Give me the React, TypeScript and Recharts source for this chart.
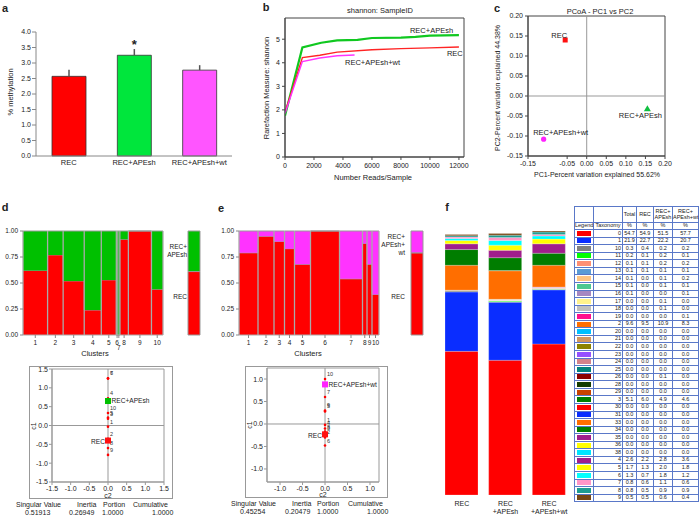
import React from "react";
import {
  BarChart, Bar, Cell, XAxis, YAxis, ErrorBar, LabelList, LineChart, Line,
  ScatterChart, Scatter, ReferenceLine, ReferenceArea, ReferenceDot, AreaChart, Area,
} from "recharts";

const FONT = '"Liberation Sans", Arial, Helvetica, sans-serif';
const INK = "#222";
const RED = "#ff0000";

// ---- a: % methylation
const methGroups = ["REC", "REC+APEsh", "REC+APEsh+wt"];
const methValues = [2.57, 3.25, 2.77];
const methErrUp = [0.21, 0.2, 0.16];
const methSig = ["", "*", ""];
const methTicks = [0, 0.5, 1, 1.5, 2, 2.5, 3, 3.5, 4];
const methColors = ["#ff0000", "#00e63c", "#ff55ff"];

// ---- b: rarefaction (shannon)
const rareXTicks = [0, 2000, 4000, 6000, 8000, 10000, 12000];
const rareYTicks = [0, 1, 2, 3, 4, 5];
const apeRareX = [0, 1200, 2500, 3600, 5000, 6000, 8000, 9000, 10000, 12000];
const apeRareY = [1.75, 4.65, 4.85, 4.95, 4.97, 5.05, 5.07, 5.1, 5.15, 5.17];
const recRareX = [0, 1200, 2400, 3600, 6000, 8000, 10000, 12000];
const recRareY = [1.9, 4.22, 4.32, 4.45, 4.55, 4.6, 4.63, 4.67];
const wtRareX = [0, 1200, 2400, 3600, 4800];
const wtRareY = [1.85, 4.05, 4.2, 4.3, 4.33];
const rareNames = ["REC+APEsh", "REC", "REC+APEsh+wt"];
const rareLabelX = [8620, 11170, 4140];
const rareLabelY = [5.38, 4.4, 4.03];

// ---- c: PCoA
const pcoaNames = ["REC", "REC+APEsh", "REC+APEsh+wt"];
const pc1 = [-0.055, 0.155, -0.11];
const pc2 = [0.14, -0.032, -0.108];
const pcoaTicks = [-0.15, -0.1, -0.05, 0, 0.05, 0.1, 0.15, 0.2];

// ---- d / e: cluster mosaics + correspondence analysis
const clusterLabels = ["1", "2", "3", "4", "5", "6", "7", "8", "9", "10"];
const mosaicTicks = [0, 0.25, 0.5, 0.75, 1];
const dSizes = [49, 31, 42, 34, 30, 3, 4, 17, 46, 23];
const dRed = [0.62, 0.77, 0.52, 0.24, 0.53, 0, 0, 0.92, 1, 0.44];
const dMarginRed = 0.61;
const eSizes = [38, 32, 21, 20, 32, 58, 46, 9, 10, 14];
const eRed = [0.79, 0.95, 0.9, 0.83, 0.68, 1, 0.54, 0.88, 0.68, 0.39];
const eMarginRed = 0.79;

const dC1 = [-0.03, -0.35, 0.18, 0.72, 0.21, 1.25, 1.25, -0.6, -0.78, 0.33];
const dC2 = [0, 0, 0, 0, 0, 0, 0, 0, 0, 0];
const dGroupNames = ["REC+APEsh", "REC"];
const dGroupC1 = [0.65, -0.4];
const dGroupC2 = [0, 0];
const eC1 = [-0.02, -0.3, -0.2, -0.1, 0.28, -0.48, 0.6, -0.17, 0.3, 1.0];
const eC2 = [0, 0, 0, 0, 0, 0, 0, 0, 0, 0];
const eGroupNames = ["REC+APEsh+wt", "REC"];
const eGroupC1 = [0.88, -0.23];
const eGroupC2 = [0, 0];
const caTicksD = [-1.5, -1, -0.5, 0, 0.5, 1, 1.5];
const caTicksE = [-1, -0.5, 0, 0.5, 1];
const statHeads = ["Singular Value", "Inertia", "Portion", "Cumulative"];
const dStats = ["0.51913", "0.26949", "1.0000", "1.0000"];
const eStats = ["0.45254", "0.20479", "1.0000", "1.0000"];

// ---- f: taxonomy composition
const compGroups = ["REC", "REC\n+APEsh", "REC\n+APEsh+wt"];
const taxa = ["0", "1", "10", "11", "12", "13", "14", "15", "16", "17", "18", "19", "2", "20", "21", "22", "23", "24",
  "25", "26", "28", "29", "3", "30", "31", "33", "34", "35", "36", "38", "4", "5", "6", "7", "8", "9"];
const compTotal = [54.7, 21.9, 0.3, 0.2, 0.1, 0.1, 0.1, 0.1, 0.1, 0, 0, 0, 9.6, 0, 0, 0, 0, 0,
  0, 0, 0, 0, 5.1, 0, 0, 0, 0, 0, 0, 0, 2.6, 1.7, 1.3, 0.8, 0.8, 0.5];
const compRec = [54.9, 22.7, 0.4, 0.1, 0.1, 0.1, 0, 0, 0, 0, 0, 0, 9.5, 0, 0, 0, 0, 0,
  0, 0, 0, 0, 6.0, 0, 0, 0, 0, 0, 0, 0, 2.2, 1.3, 0.7, 0.6, 0.5, 0.5];
const compApesh = [51.5, 22.2, 0.2, 0.2, 0.2, 0.1, 0.1, 0.1, 0, 0.1, 0.1, 0, 10.9, 0, 0, 0, 0, 0,
  0, 0.1, 0, 0, 4.9, 0, 0, 0, 0, 0, 0, 0, 2.8, 2.0, 1.8, 1.1, 0.9, 0.6];
const compWt = [57.7, 20.7, 0.2, 0.1, 0.2, 0.1, 0.2, 0.1, 0.1, 0, 0, 0.1, 8.3, 0, 0, 0, 0, 0,
  0, 0, 0, 0, 4.6, 0, 0, 0, 0, 0, 0, 0, 3.6, 1.8, 1.2, 0.6, 0.9, 0.4];
const taxaColors = ["#ff0000", "#0a2dff", "#808080", "#00ff00", "#ff8f73", "#5b9bd5", "#ffc482", "#4cc890",
  "#a687c2", "#fff28c", "#bfbfbf", "#ff0f8c", "#ff6e00", "#00bfff", "#d2965f", "#8c8200", "#9650ff", "#d2828c",
  "#00827d", "#8c0000", "#143c00", "#c84100", "#007d00", "#ff0000", "#0a2dff", "#ff6e00", "#007d00", "#a01e8c",
  "#ffff00", "#00e6ff", "#a01e8c", "#ffff00", "#00ffff", "#ff96c8", "#1e9b91", "#784614"];

// small absolutely placed text helper
const T = ({ x, y, s = 7.5, a = "c", rot = 0, bold = false, children }: any) => {
  const tx = a === "c" ? "-50%" : a === "r" ? "-100%" : "0";
  return (
    <div style={{
      position: "absolute", left: x, top: y, fontSize: s, fontWeight: bold ? 700 : 400, lineHeight: 1,
      whiteSpace: "pre", textAlign: "center",
      transform: `translate(${tx}, -50%)${rot ? ` rotate(${rot}deg)` : ""}`,
    }}>{children}</div>
  );
};

const Star = (p: any) =>
  p.value ? (
    <text x={p.x + p.width / 2} y={p.y - 6} textAnchor="middle" fontSize={13} fontWeight={700} fill={INK}>{p.value}</text>
  ) : null;

function PanelA() {
  const rows = methGroups.map((g, i) => ({ name: g, value: methValues[i], err: [0, methErrUp[i]], sig: methSig[i] }));
  return (
    <div style={{ position: "absolute", left: 0, top: 0 }}>
      <BarChart width={232} height={175} data={rows} margin={{ top: 32, right: 0, bottom: 4, left: 0 }} barSize={34}>
        <XAxis dataKey="name" height={15} tickLine={false} tickSize={2} tickMargin={2} stroke="#888"
          tick={{ fontSize: 7.5, fill: INK }} />
        <YAxis domain={[0, 4]} ticks={methTicks} width={36} tickSize={4} tickMargin={1} stroke="#888"
          tickFormatter={(v) => v.toFixed(1)} tick={{ fontSize: 7, fill: INK }} />
        <Bar dataKey="value" stroke="#333" strokeWidth={0.8} isAnimationActive={false}>
          {rows.map((r, i) => <Cell key={r.name} fill={methColors[i]} />)}
          <ErrorBar dataKey="err" width={0} stroke="#555" strokeWidth={1.5} direction="y" />
          <LabelList dataKey="sig" content={Star} />
        </Bar>
      </BarChart>
    </div>
  );
}

function PanelB() {
  const series = [
    { xs: apeRareX, ys: apeRareY, color: "#10c820", w: 2.2 },
    { xs: recRareX, ys: recRareY, color: "#ff2424", w: 1.4 },
    { xs: wtRareX, ys: wtRareY, color: "#ff33ff", w: 1.4 },
  ];
  return (
    <div style={{ position: "absolute", left: 225, top: 0 }}>
      <LineChart width={245} height={180} margin={{ top: 18, right: 6, bottom: 8, left: 0 }}>
        <XAxis type="number" dataKey="x" domain={[0, 12350]} ticks={rareXTicks} height={15} tickSize={3} tickMargin={3}
          stroke="#444" tick={{ fontSize: 7, fill: INK }} allowDataOverflow />
        <YAxis type="number" domain={[0, 5.9]} ticks={rareYTicks} width={60} tickSize={3} stroke="#444"
          tick={{ fontSize: 7, fill: INK }} allowDataOverflow />
        <ReferenceArea x1={0} x2={12350} y1={0} y2={5.9} fill="none" stroke="#444" strokeWidth={1} />
        {series.map((s, i) => (
          <Line key={rareNames[i]} name={rareNames[i]} data={s.xs.map((x, j) => ({ x, y: s.ys[j] }))} dataKey="y"
            type="linear" stroke={s.color} strokeWidth={s.w} dot={false} isAnimationActive={false} />
        ))}
        {rareNames.map((n, i) => (
          <ReferenceDot key={n} x={rareLabelX[i]} y={rareLabelY[i]} r={0} fill="none" stroke="none"
            label={{ value: n, position: "right", offset: 0, fontSize: 7.5, fill: INK }} />
        ))}
      </LineChart>
    </div>
  );
}

const pcoaMarks = [
  { color: "#ff1010", kind: "square", anchor: "end", dx: 2, dy: -5 },
  { color: "#10c040", kind: "triangle", anchor: "middle", dx: -7, dy: 6.5 },
  { color: "#ff22ff", kind: "circle", anchor: "middle", dx: 17, dy: -7 },
];

function PanelC() {
  return (
    <div style={{ position: "absolute", left: 465, top: 0 }}>
      <ScatterChart width={235} height={180} margin={{ top: 16, right: 35, bottom: 9, left: 0 }}>
        <XAxis type="number" dataKey="x" domain={[-0.15, 0.2]} ticks={pcoaTicks} height={15} tickSize={3}
          stroke="#444" tickFormatter={(v) => v.toFixed(2)} tick={{ fontSize: 7, fill: INK }} allowDataOverflow />
        <YAxis type="number" dataKey="y" domain={[-0.15, 0.2]} ticks={pcoaTicks} width={63} tickSize={3}
          stroke="#444" tickFormatter={(v) => v.toFixed(2)} tick={{ fontSize: 7, fill: INK }} allowDataOverflow />
        <ReferenceArea x1={-0.15} x2={0.2} y1={-0.15} y2={0.2} fill="none" stroke="#444" />
        <ReferenceLine x={0} stroke="#999" />
        <ReferenceLine y={0} stroke="#999" />
        {pcoaNames.map((n, i) => {
          const m = pcoaMarks[i];
          return (
            <Scatter key={n} name={n} data={[{ x: pc1[i], y: pc2[i], name: n }]} isAnimationActive={false}
              shape={(p: any) => (
                <g>
                  {m.kind === "square" && <rect x={p.cx - 2.5} y={p.cy - 2.5} width={5} height={5} fill={m.color} />}
                  {m.kind === "triangle" && (
                    <polygon points={`${p.cx},${p.cy - 3.5} ${p.cx - 3.5},${p.cy + 2.5} ${p.cx + 3.5},${p.cy + 2.5}`} fill={m.color} />
                  )}
                  {m.kind === "circle" && <circle cx={p.cx} cy={p.cy} r={2.6} fill={m.color} />}
                  <text x={p.cx + m.dx} y={p.cy + m.dy} dy="0.35em" textAnchor={m.anchor} fontSize={7.5} fill={INK}>
                    {p.payload.name}
                  </text>
                </g>
              )} />
          );
        })}
      </ScatterChart>
    </div>
  );
}

function Mosaic({ left, top, width, yw, sizes, red, otherColor, lowered }: any) {
  const rows: any[] = [];
  const bounds: number[] = [];
  const centers: number[] = [];
  let acc = 0;
  sizes.forEach((s: number, i: number) => {
    rows.push({ x: acc, red: red[i], other: 1 - red[i] });
    bounds.push(acc);
    centers.push(acc + s / 2);
    acc += s;
  });
  rows.push({ x: acc, red: red[red.length - 1], other: 1 - red[red.length - 1] });
  bounds.push(acc);
  const tick = (p: any) => {
    const i = centers.indexOf(p.payload.value);
    const lab = clusterLabels[i];
    return (
      <text x={p.x} y={p.y + (lowered.includes(lab) ? 5 : 0)} dy="0.71em" textAnchor="middle" fontSize={6.5} fill={INK}>
        {lab}
      </text>
    );
  };
  return (
    <div style={{ position: "absolute", left, top }}>
      <AreaChart width={width} height={140} data={rows} margin={{ top: 11, right: 5, bottom: 10, left: 0 }}>
        <XAxis type="number" dataKey="x" domain={[0, acc]} ticks={centers} interval={0} height={15} tickSize={3}
          axisLine={false} stroke="#888" tick={tick} />
        <YAxis type="number" domain={[0, 1]} ticks={mosaicTicks} width={yw} tickSize={3} axisLine={false}
          stroke="#888" tickFormatter={(v) => v.toFixed(2)} tick={{ fontSize: 6.5, fill: INK }} />
        <Area type="stepAfter" dataKey="red" stackId="m" fill={RED} fillOpacity={1} stroke="#999" strokeWidth={1}
          isAnimationActive={false} activeDot={false} />
        <Area type="stepAfter" dataKey="other" stackId="m" fill={otherColor} fillOpacity={1} stroke="#999"
          strokeWidth={1} isAnimationActive={false} activeDot={false} />
        {bounds.map((b) => <ReferenceLine key={b} x={b} stroke="#aaa" strokeWidth={1.3} />)}
        <ReferenceLine y={0} stroke="#aaa" />
      </AreaChart>
    </div>
  );
}

function MarginBar({ left, top, red, otherColor }: any) {
  return (
    <div style={{ position: "absolute", left, top }}>
      <BarChart width={18} height={130} data={[{ name: "all", red, other: 1 - red }]}
        margin={{ top: 11, right: 3, bottom: 15, left: 3 }} barCategoryGap={0}>
        <XAxis dataKey="name" hide />
        <YAxis hide domain={[0, 1]} />
        <Bar dataKey="red" stackId="s" fill={RED} stroke="#999" isAnimationActive={false} />
        <Bar dataKey="other" stackId="s" fill={otherColor} stroke="#999" isAnimationActive={false} />
      </BarChart>
    </div>
  );
}

function CAPlot({ left, top, width, height, yw, margin, domX, domY, ticks, c1, c2, gNames, gC1, gC2, gColors, gSides }: any) {
  const pts = clusterLabels.map((l, i) => ({ x: c2[i], y: c1[i], label: l }));
  return (
    <div style={{ position: "absolute", left, top, width, height, border: "1.5px solid #999", boxSizing: "border-box" }}>
      <div style={{ position: "absolute", left: -1.5, top: -1.5 }}>
        <ScatterChart width={width} height={height} margin={margin}>
          <XAxis type="number" dataKey="x" domain={domX} ticks={ticks} height={10} tickSize={3} tickMargin={1}
            stroke="#999" tickFormatter={(v) => v.toFixed(1)} tick={{ fontSize: 7, fill: INK }} allowDataOverflow />
          <YAxis type="number" dataKey="y" domain={domY} ticks={ticks} width={yw} tickSize={3} tickMargin={1}
            stroke="#999" tickFormatter={(v) => v.toFixed(1)} tick={{ fontSize: 7, fill: INK }} allowDataOverflow />
          <ReferenceArea x1={domX[0]} x2={domX[1]} y1={domY[0]} y2={domY[1]} fill="none" stroke="#999" />
          <ReferenceLine x={0} stroke="#999" />
          <ReferenceLine y={0} stroke="#999" />
          <Scatter name="clusters" data={pts} isAnimationActive={false}
            shape={(p: any) => (
              <g>
                <circle cx={p.cx} cy={p.cy} r={1.3} fill={RED} />
                <text x={p.cx + 2} y={p.cy - 3} fontSize={5.5} fill="#333">{p.payload.label}</text>
              </g>
            )} />
          {gNames.map((n: string, i: number) => (
            <Scatter key={n} name={n} data={[{ x: gC2[i], y: gC1[i], name: n }]} isAnimationActive={false}
              shape={(p: any) => (
                <g>
                  <rect x={p.cx - 3} y={p.cy - 3} width={6} height={6} fill={gColors[i]} />
                  <text x={p.cx + (gSides[i] === "right" ? 3.5 : -3)} y={p.cy + (gSides[i] === "right" ? 0 : 1.5)}
                    dy="0.35em" textAnchor={gSides[i] === "right" ? "start" : "end"} fontSize={6.6} fill={INK}>
                    {p.payload.name}
                  </text>
                </g>
              )} />
          ))}
        </ScatterChart>
      </div>
    </div>
  );
}

function Stats({ headX, valX, y, vals }: any) {
  return (
    <>
      {statHeads.map((h, i) => <T key={h} x={headX[i]} y={y} a="l" s={7}>{h}</T>)}
      {vals.map((v: string, i: number) => <T key={i} x={valX[i]} y={y + 7.5} a="l" s={7}>{v}</T>)}
    </>
  );
}

function PanelF() {
  const cols = [compRec, compApesh, compWt];
  const rows = compGroups.map((g, gi) => {
    const row: any = { name: g };
    taxa.forEach((t, i) => { row["t" + t] = cols[gi][i]; });
    return row;
  });
  const tick = (p: any) => (
    <text x={p.x} y={p.y} textAnchor="middle" fontSize={7} fill={INK}>
      {String(p.payload.value).split("\n").map((l, i) => (
        <tspan key={i} x={p.x} dy={i === 0 ? 6.5 : 8}>{l}</tspan>
      ))}
    </text>
  );
  return (
    <div style={{ position: "absolute", left: 440, top: 225 }}>
      <BarChart width={131} height={291} data={rows} margin={{ top: 6, right: 0, bottom: 6, left: 0 }} barSize={33}>
        <XAxis dataKey="name" height={15} tickLine={false} axisLine={false} tickSize={2} tickMargin={2}
          interval={0} tick={tick} />
        <YAxis hide domain={[0, 100]} />
        {taxa.map((t, i) => (
          <Bar key={t} dataKey={"t" + t} stackId="f" fill={taxaColors[i]} stroke="#ffffff" strokeOpacity={0.45}
            strokeWidth={0.5} isAnimationActive={false} />
        ))}
      </BarChart>
    </div>
  );
}

function CompTable() {
  const bd = "0.6px solid #5a78c8";
  const cell: any = { border: bd, padding: 0, lineHeight: 1, textAlign: "center", verticalAlign: "middle" };
  const fmt = (v: number) => v.toFixed(1);
  return (
    <table style={{ position: "absolute", left: 574, top: 206, borderCollapse: "collapse", tableLayout: "fixed",
      fontSize: 5.5, width: 124, color: INK }}>
      <colgroup>
        <col style={{ width: 19 }} /><col style={{ width: 29 }} /><col style={{ width: 14 }} />
        <col style={{ width: 17 }} /><col style={{ width: 19 }} /><col style={{ width: 26 }} />
      </colgroup>
      <tbody>
        <tr style={{ height: 16 }}>
          <td style={cell} /><td style={cell} />
          <td style={cell}>Total</td><td style={cell}>REC</td>
          <td style={cell}>REC+<br />APEsh</td><td style={cell}>REC+<br />APEsh+wt</td>
        </tr>
        <tr style={{ height: 7 }}>
          <td style={cell}>Legend</td><td style={cell}>Taxonomy</td>
          <td style={cell}>%</td><td style={cell}>%</td><td style={cell}>%</td><td style={cell}>%</td>
        </tr>
        {taxa.map((t, i) => (
          <tr key={t} style={{ height: 7.57 }}>
            <td style={cell}><div style={{ background: taxaColors[i], height: 5, margin: "0 2px" }} /></td>
            <td style={{ ...cell, textAlign: "right", paddingRight: 1 }}>{t}</td>
            <td style={cell}>{fmt(compTotal[i])}</td>
            <td style={cell}>{fmt(compRec[i])}</td>
            <td style={cell}>{fmt(compApesh[i])}</td>
            <td style={cell}>{fmt(compWt[i])}</td>
          </tr>
        ))}
      </tbody>
    </table>
  );
}

export default function App() {
  return (
    <div style={{ position: "absolute", left: 0, top: 0, width: 700, height: 516, background: "#fff",
      fontFamily: FONT, color: INK, overflow: "hidden" }}>
      {/* a */}
      <T x={5} y={8} s={11} bold>a</T>
      <T x={10.5} y={92} rot={-90}>% methylation</T>
      <PanelA />

      {/* b */}
      <T x={266} y={7} s={11} bold>b</T>
      <T x={380} y={11}>shannon: SampleID</T>
      <T x={267} y={88} rot={-90}>Rarefaction Measure: shannon</T>
      <T x={373} y={178}>Number Reads/Sample</T>
      <PanelB />

      {/* c */}
      <T x={497} y={8} s={11} bold>c</T>
      <T x={600} y={12}>PCoA - PC1 vs PC2</T>
      <T x={497} y={88} s={7} rot={-90}>PC2-Percent variation explained 44.38%</T>
      <T x={597} y={174} s={7}>PC1-Percent variation explained 55.62%</T>
      <PanelC />

      {/* d */}
      <T x={5} y={207} s={11} bold>d</T>
      <Mosaic left={0} top={220} width={168} yw={23} sizes={dSizes} red={dRed} otherColor="#00c000" lowered={["7"]} />
      <MarginBar left={185} top={220} red={dMarginRed} otherColor="#00c000" />
      <T x={187} y={247} s={6.5} a="r">REC+</T>
      <T x={187} y={255} s={6.5} a="r">APEsh</T>
      <T x={187} y={297} s={6.5} a="r">REC</T>
      <T x={95} y={354}>Clusters</T>
      <CAPlot left={29} top={366} width={144} height={133} yw={23}
        margin={{ top: 3, right: 9, bottom: 7, left: 0 }} domX={[-1.5, 1.5]} domY={[-1.5, 1.5]} ticks={caTicksD}
        c1={dC1} c2={dC2} gNames={dGroupNames} gC1={dGroupC1} gC2={dGroupC2}
        gColors={["#00c000", "#ff1010"]} gSides={["right", "left"]} />
      <T x={33} y={426} s={7} rot={-90}>c1</T>
      <T x={108} y={495} s={7}>c2</T>
      <Stats headX={[16, 77, 103, 133]} valX={[25, 69, 102, 152]} y={504} vals={dStats} />

      {/* e */}
      <T x={221} y={208} s={11} bold>e</T>
      <Mosaic left={215} top={220} width={169} yw={24} sizes={eSizes} red={eRed} otherColor="#ff33ff" lowered={[]} />
      <MarginBar left={408} top={220} red={eMarginRed} otherColor="#ff33ff" />
      <T x={405} y={237} s={6.5} a="r">REC+</T>
      <T x={405} y={245} s={6.5} a="r">APEsh+</T>
      <T x={405} y={253} s={6.5} a="r">wt</T>
      <T x={405} y={297} s={6.5} a="r">REC</T>
      <T x={308} y={354}>Clusters</T>
      <CAPlot left={245} top={366} width={143} height={132} yw={22}
        margin={{ top: 2, right: 9, bottom: 6, left: 0 }} domX={[-1.29, 1.2]} domY={[-1.29, 1.245]} ticks={caTicksE}
        c1={eC1} c2={eC2} gNames={eGroupNames} gC1={eGroupC1} gC2={eGroupC2}
        gColors={["#ff22ff", "#ff1010"]} gSides={["right", "left"]} />
      <T x={249} y={425} s={7} rot={-90}>c1</T>
      <T x={323} y={494} s={7}>c2</T>
      <Stats headX={[231, 292, 317, 348]} valX={[240, 285, 317, 367]} y={503} vals={eStats} />

      {/* f */}
      <T x={447} y={207} s={11} bold>f</T>
      <PanelF />
      <CompTable />
    </div>
  );
}
